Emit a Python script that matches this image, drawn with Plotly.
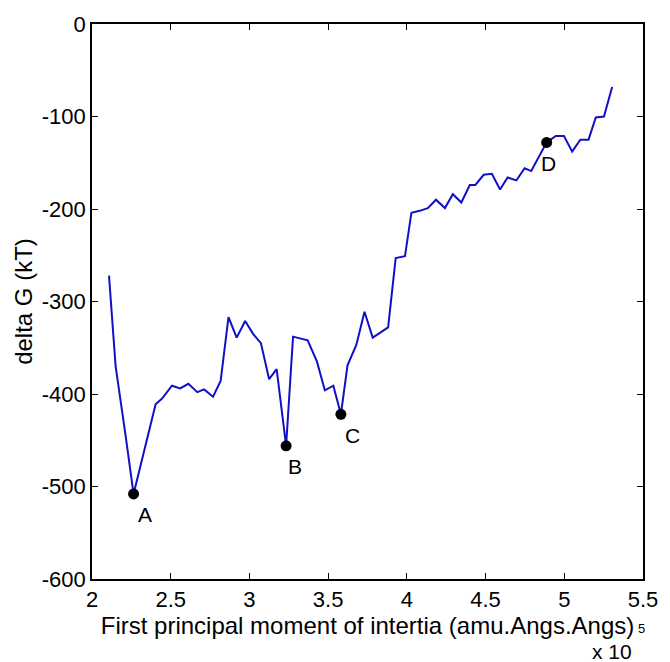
import plotly.graph_objects as go

# x values in units of 1e5 amu.Angs.Angs
moment = [2.108, 2.150, 2.215, 2.264, 2.404, 2.445, 2.508, 2.560, 2.612, 2.669,
          2.712, 2.769, 2.817, 2.867, 2.919, 2.973, 3.023, 3.073, 3.125, 3.173,
          3.233, 3.277, 3.370, 3.429, 3.479, 3.533, 3.581, 3.623, 3.679, 3.731,
          3.783, 3.881, 3.929, 3.988, 4.029, 4.081, 4.133, 4.185, 4.242, 4.292,
          4.346, 4.400, 4.435, 4.488, 4.540, 4.592, 4.640, 4.696, 4.748, 4.790,
          4.888, 4.946, 4.998, 5.050, 5.102, 5.154, 5.200, 5.252, 5.304]
delta_g = [-272, -370, -447, -508, -411, -405, -391, -394, -389, -398,
           -395, -403, -386, -317, -339, -321, -335, -345, -384, -373,
           -456, -338, -342, -365, -396, -391, -422, -369, -347, -311,
           -339, -328, -253, -251, -204, -202, -199, -190, -199, -184,
           -193, -174, -174, -163, -162, -179, -166, -169, -156, -159,
           -128, -121, -121, -138, -125, -125, -101, -100, -68]

point_labels = ["A", "B", "C", "D"]
point_x = [2.264, 3.233, 3.581, 4.888]
point_y = [-508, -456, -422, -128]
label_shift_x = [11, 9, 12, 2]

x_ticks = [2, 2.5, 3, 3.5, 4, 4.5, 5, 5.5]
x_tick_text = ["2", "2.5", "3", "3.5", "4", "4.5", "5", "5.5"]
y_ticks = [0, -100, -200, -300, -400, -500, -600]
y_tick_text = ["0", "-100", "-200", "-300", "-400", "-500", "-600"]

FONT = "Liberation Sans, Arial, sans-serif"

fig = go.Figure()
fig.add_trace(go.Scatter(x=moment, y=delta_g, mode="lines",
                         line=dict(color="#1010c8", width=2), showlegend=False))
fig.add_trace(go.Scatter(x=point_x, y=point_y, mode="markers",
                         marker=dict(color="black", size=11), showlegend=False))

for lab, px, py, sx in zip(point_labels, point_x, point_y, label_shift_x):
    fig.add_annotation(x=px, y=py, text=lab, showarrow=False,
                       xanchor="center", yanchor="middle",
                       xshift=sx, yshift=-21,
                       font=dict(family=FONT, size=21, color="black"))

axis_common = dict(showline=True, linecolor="black", linewidth=1.5, mirror="ticks",
                   ticks="inside", ticklen=6, tickwidth=1, tickcolor="black",
                   showgrid=False, zeroline=False,
                   tickfont=dict(family=FONT, size=22, color="black"))

fig.update_xaxes(range=[2, 5.5], tickvals=x_ticks, ticktext=x_tick_text,
                 title=dict(text="First principal moment of intertia (amu.Angs.Angs)",
                            font=dict(family=FONT, size=24, color="black"), standoff=0),
                 **axis_common)
fig.update_yaxes(range=[-600, 0], tickvals=y_ticks, ticktext=y_tick_text,
                 title=dict(text="delta G (kT)",
                            font=dict(family=FONT, size=24, color="black"), standoff=2),
                 **axis_common)

fig.add_annotation(xref="paper", yref="paper", x=0.998, y=-0.09, text="5",
                   showarrow=False, xanchor="center", yanchor="middle",
                   font=dict(family=FONT, size=13, color="black"))
fig.add_annotation(xref="paper", yref="paper", x=0.943, y=-0.131, text="x 10",
                   showarrow=False, xanchor="center", yanchor="middle",
                   font=dict(family=FONT, size=21, color="black"))

fig.update_layout(width=670, height=662,
                  margin=dict(l=92, r=19, t=19, b=83),
                  paper_bgcolor="white", plot_bgcolor="white")

fig.write_html("out.html")
